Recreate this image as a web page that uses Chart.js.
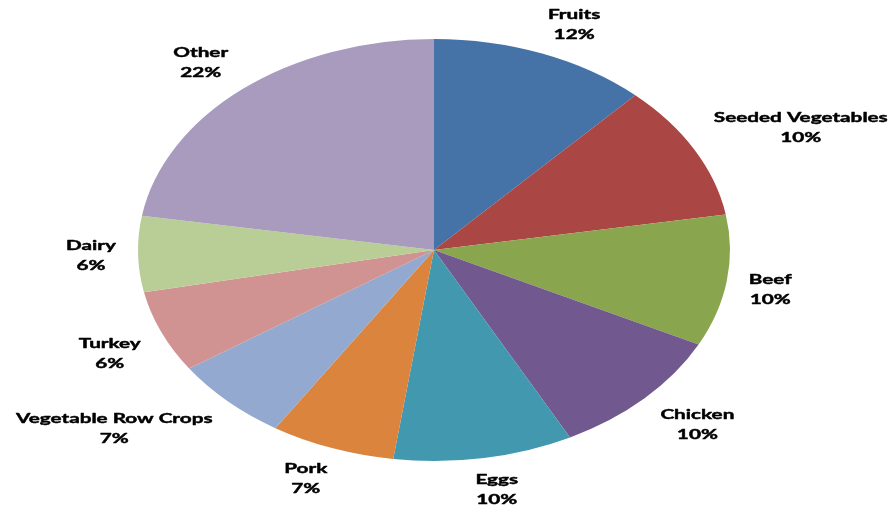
<!DOCTYPE html>
<html><head><meta charset="utf-8">
<script src="https://cdn.jsdelivr.net/npm/chart.js@4/dist/chart.umd.min.js"></script>
<style>html,body{margin:0;padding:0;background:#fff}#wrap{width:891px;height:508px;position:relative}</style>
</head><body><div id="wrap"><canvas id="c" width="891" height="508"></canvas></div>
<script>
const categories = ["Fruits","Seeded Vegetables","Beef","Chicken","Eggs","Pork","Vegetable Row Crops","Turkey","Dairy","Other"];
const shares = [11.9, 10.4, 10.1, 10.0, 9.8, 6.8, 6.5, 6.3, 5.8, 22.4];
const sliceColors = ["#4572A7","#AA4643","#89A54E","#71588F","#4198AF","#DB843D","#93A9CF","#D19392","#B9CD96","#A99BBD"];

const PIE_CX = 434, PIE_CY = 250, RY = 211, RX = 296;
const STRETCH = RX / RY;
const TEXT_STRETCH = 1.48;
const FONT = "bold 14px Lato";
const LABEL_K = 1.075;

function clamp(v){ return Math.max(-1, Math.min(1, v)); }

const ellipsePlugin = {
  id: 'ellipse',
  beforeDatasetsDraw(chart){
    const arc = chart.getDatasetMeta(0).data[0];
    const ctx = chart.ctx;
    ctx.save();
    ctx.translate(PIE_CX, PIE_CY);
    ctx.scale(STRETCH, 1);
    ctx.translate(-arc.x, -arc.y);
  },
  afterDatasetsDraw(chart){ chart.ctx.restore(); }
};

const labelPlugin = {
  id: 'outLabels',
  afterDraw(chart){
    const ctx = chart.ctx;
    const data = chart.data.datasets[0].data;
    const total = data.reduce((a,b)=>a+b,0);
    const meta = chart.getDatasetMeta(0);
    ctx.save();
    ctx.font = FONT;
    ctx.fillStyle = "#000";
    ctx.strokeStyle = "#000";
    ctx.lineWidth = 0.45;
    ctx.lineJoin = "round";
    ctx.textAlign = "center";
    ctx.textBaseline = "alphabetic";
    meta.data.forEach((arc, i) => {
      const mid = (arc.startAngle + arc.endAngle) / 2;
      const dx = Math.cos(mid), dy = Math.sin(mid);
      const ax = PIE_CX + RX * LABEL_K * dx;
      const ay = PIE_CY + RY * LABEL_K * dy;
      const l1 = chart.data.labels[i];
      const l2 = Math.round(data[i] / total * 100) + "%";
      const w = Math.max(ctx.measureText(l1).width, ctx.measureText(l2).width) * TEXT_STRETCH;
      const hw = w / 2, hh = 15;
      const cx = ax + clamp(dx * 2.5) * hw;
      const cy = ay + clamp(dy * 2.5) * hh;
      const top = cy - hh;
      [[l1, top + 10], [l2, top + 30]].forEach(([t, y]) => {
        ctx.save();
        ctx.translate(cx, y);
        ctx.scale(TEXT_STRETCH, 1);
        ctx.fillText(t, 0, 0);
        ctx.strokeText(t, 0, 0);
        ctx.restore();
      });
    });
    ctx.restore();
  }
};

new Chart(document.getElementById('c'), {
  type: 'pie',
  data: {
    labels: categories,
    datasets: [{ data: shares, backgroundColor: sliceColors, borderWidth: 0, radius: RY }]
  },
  options: {
    responsive: false,
    animation: false,
    events: [],
    plugins: { legend: { display: false }, tooltip: { enabled: false } }
  },
  plugins: [ellipsePlugin, labelPlugin]
});
</script>
</body></html>
